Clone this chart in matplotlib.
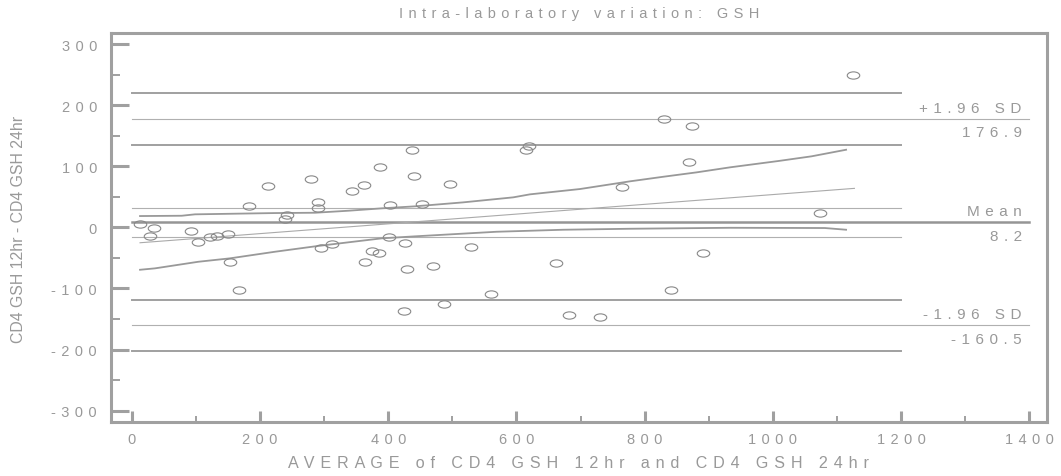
import matplotlib
matplotlib.use("Agg")
import matplotlib.pyplot as plt
from matplotlib.path import Path
from matplotlib.transforms import Affine2D

plt.rcParams['font.family'] = ['Liberation Sans', 'DejaVu Sans']

# scatter data: average vs difference
avg = [13, 34.8, 28, 92.5, 103.9, 122.6, 132.5, 150.7, 152.8, 167.8,
       183, 213, 239, 241.7, 280, 291, 291, 295.7, 312.3, 343,
       362.2, 387.7, 402.8, 400.8, 374.2, 386.1, 364.3, 437.6, 439.7, 452.7,
       426.6, 428.8, 424.6, 470.3, 495.9, 529.6, 487, 560.3, 614.4, 619,
       661.6, 681.4, 730.7, 765, 830, 873.2, 868.5, 840.5, 890.4, 1125.2, 1073.8]
diff = [5.4, -1.1, -14.7, -6.5, -24.5, -16.4, -13.7, -10.4, -56.3, -102.6,
        34.9, 67.1, 13.6, 20.1, 79.0, 41.4, 31.6, -34.4, -26.8, 59.9,
        69.7, 99.2, 37.0, -15.9, -38.8, -42.6, -56.8, 127.0, 84.5, 37.6,
        -26.2, -68.2, -137.5, -62.8, 70.4, -32.2, -125.5, -109.7, 127.0, 133.6,
        -58.9, -143.0, -146.8, 65.5, 177.2, 165.3, 106.4, -103.1, -41.6, 249.3, 23.9]

# limits of agreement and their CIs
mean_d = 8.2
upper = 176.9
lower = -160.5
mean_ci = [31.5, -15.3]
upper_ci = [219.2, 134.6]
lower_ci = [-118.2, -202.8]

# regression line and its confidence curves
reg_x = [13, 1127]
reg_y = [-25.2, 63.8]
ci_hi_x = [13, 78, 98.7, 223.5, 285.8, 337.8, 389.8, 441.8, 517, 595, 621, 699, 777, 829, 881, 933, 1008, 1060, 1114]
ci_hi_y = [18.5, 19.0, 21.3, 23.4, 23.9, 27.2, 31.1, 34.4, 40.9, 49.1, 54.0, 62.7, 75.3, 82.8, 90.0, 98.2, 108.5, 116.2, 127.0]
ci_lo_x = [13, 36.3, 103.9, 153.3, 223.5, 285.8, 337.8, 389.8, 441.8, 569, 673, 777, 933, 1081, 1114]
ci_lo_y = [-69.4, -67.1, -56.3, -50.7, -39.9, -31.1, -24.5, -18.0, -14.7, -7.2, -3.9, -2.3, -0.7, -1.1, -3.9]

yticks = [-300, -200, -100, 0, 100, 200, 300]
xticks = [0, 200, 400, 600, 800, 1000, 1200, 1400]

GAP = ' \u200a'
def spaced(s):
    return GAP.join(s)

grey = '#999999'
line_grey = '#a0a0a0'

fig = plt.figure(figsize=(10.61, 4.77), dpi=100)
ax = fig.add_axes([0.1046, 0.1132, 0.8822, 0.8155])

# horizontal reference lines
ax.plot([0, 1400], [mean_d, mean_d], color='#959595', lw=1.8)
ax.plot([0, 1400], [upper, upper], color='#b0b0b0', lw=0.8)
ax.plot([0, 1400], [lower, lower], color='#b0b0b0', lw=0.8)
for v in upper_ci + lower_ci:
    ax.plot([0, 1200], [v, v], color=line_grey, lw=1.4)
for v in mean_ci:
    ax.plot([0, 1200], [v, v], color='#b0b0b0', lw=0.8)

ax.plot(reg_x, reg_y, color='#aaaaaa', lw=0.8)
ax.plot(ci_hi_x, ci_hi_y, color='#999999', lw=1.3)
ax.plot(ci_lo_x, ci_lo_y, color='#999999', lw=1.3)

# elliptical open markers
ell = Path.unit_circle().transformed(Affine2D().scale(1, 0.58))
ax.plot(avg, diff, linestyle='none', marker=ell, markersize=9.0,
        markerfacecolor='none', markeredgecolor='#888888', markeredgewidth=0.8)

# right side labels
lab_x = 1388
for yv, top, bottom in [(upper, '+1.96 SD', '176.9'), (mean_d, 'Mean', '8.2'),
                        (lower, '-1.96 SD', '-160.5')]:
    ax.annotate(spaced(top), (lab_x, yv), xytext=(0, 8.0), textcoords='offset points',
                ha='right', va='center', fontsize=11, color=grey)
    ax.annotate(spaced(bottom), (lab_x, yv), xytext=(0, -9.5), textcoords='offset points',
                ha='right', va='center', fontsize=11, color=grey)

ax.set_xlim(-32.3, 1427.3)
ax.set_ylim(-318.5, 318)

ax.set_xticks(xticks)
ax.set_xticklabels([spaced(str(v)) for v in xticks])
ax.set_xticks(range(100, 1400, 200), minor=True)
ax.set_yticks(yticks)
ax.set_yticklabels([spaced(str(v)) for v in yticks])
ax.set_yticks(range(-250, 300, 100), minor=True)

ax.tick_params(axis='x', which='major', direction='in', length=8, width=2.2,
               color=line_grey, labelcolor=grey, labelsize=10.5, pad=7)
ax.tick_params(axis='x', which='minor', direction='in', length=4.3, width=1.4,
               color=line_grey)
ax.tick_params(axis='y', which='major', direction='in', length=12.7, width=2.2,
               color=line_grey, labelcolor=grey, labelsize=10.5, pad=10)
ax.tick_params(axis='y', which='minor', direction='in', length=6.5, width=1.4,
               color=line_grey)

for sp in ax.spines.values():
    sp.set_color(line_grey)
    sp.set_linewidth(2.2)

fig.text(0.5457, 0.9706, spaced('Intra-laboratory variation: GSH'),
         ha='center', va='center', fontsize=10.5, color=grey)
fig.text(0.5457, 0.0293, spaced('AVERAGE of CD4 GSH 12hr and CD4 GSH 24hr'),
         ha='center', va='center', fontsize=11.6, color=grey)
fig.text(0.0174, 0.518, 'CD4 GSH 12hr - CD4 GSH 24hr', rotation=90,
         ha='center', va='center', fontsize=11.4, color=grey)

fig.savefig('out.png', dpi=100)
